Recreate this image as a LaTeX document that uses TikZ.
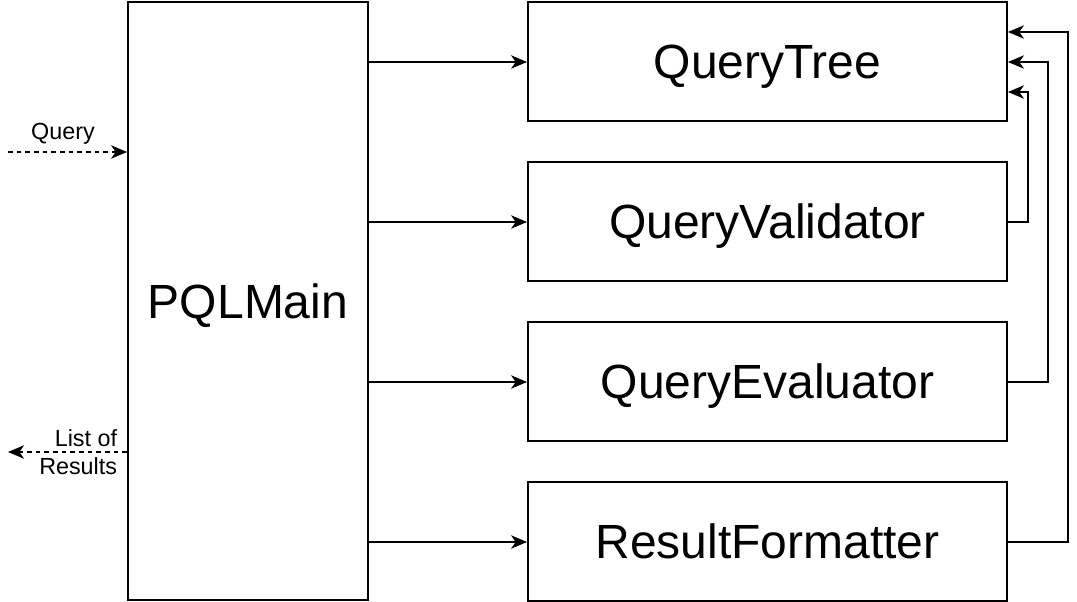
\documentclass[tikz,border=0pt]{standalone}
\usepackage{fontspec}
\setmainfont{Liberation Sans}
\usetikzlibrary{arrows.meta}
\begin{document}
\begin{tikzpicture}[x=0.75pt,y=-0.75pt,
  line width=1.4pt,
  box/.style={draw=black,line width=1.4pt,inner sep=0pt,text depth=0pt,text height=26pt,font=\fontsize{36}{42}\selectfont},
  conn/.style={-{Stealth[length=12pt,width=10pt,inset=3.5pt]}},
  dashconn/.style={conn,dash pattern=on 3.5pt off 3pt},
  lbl/.style={font=\fontsize{17.5}{20.5}\selectfont,inner sep=0pt}]
\useasboundingbox (0,0) rectangle (1077,602);
\node[box,minimum width=240*0.75pt,minimum height=598*0.75pt] (main) at (248,301) {PQLMain};
\node[box,minimum width=479*0.75pt,minimum height=119*0.75pt] (tree) at (767.5,61.5) {QueryTree};
\node[box,minimum width=479*0.75pt,minimum height=119*0.75pt] (val) at (767.5,221.5) {QueryValidator};
\node[box,minimum width=479*0.75pt,minimum height=119*0.75pt] (eval) at (767.5,381.5) {QueryEvaluator};
\node[box,minimum width=479*0.75pt,minimum height=119*0.75pt] (fmt) at (767.5,541.5) {ResultFormatter};
% main to boxes
\draw[conn] (main.east |- 0,62) -- (tree.west |- 0,62);
\draw[conn] (main.east |- 0,222) -- (val.west |- 0,222);
\draw[conn] (main.east |- 0,382) -- (eval.west |- 0,382);
\draw[conn] (main.east |- 0,542) -- (fmt.west |- 0,542);
% feedback
\draw[conn] (val.east |- 0,222) -- (1028,222) -- (1028,92) -- (tree.east |- 0,92);
\draw[conn] (eval.east |- 0,382) -- (1048,382) -- (1048,62) -- (tree.east |- 0,62);
\draw[conn] (fmt.east |- 0,542) -- (1068,542) -- (1068,32) -- (tree.east |- 0,32);
% inputs/outputs
\coordinate (qin) at (8,152);
\coordinate (rout) at (8,452);
\draw[dashconn] (qin) -- (main.west |- qin);
\draw[dashconn] (main.west |- rout) -- (rout);
\node[lbl] (qlbl) at (63,134) {Query};
\node[lbl,align=right,anchor=east] (rlbl) at (118,452) {List of\\Results};
\end{tikzpicture}
\end{document}
